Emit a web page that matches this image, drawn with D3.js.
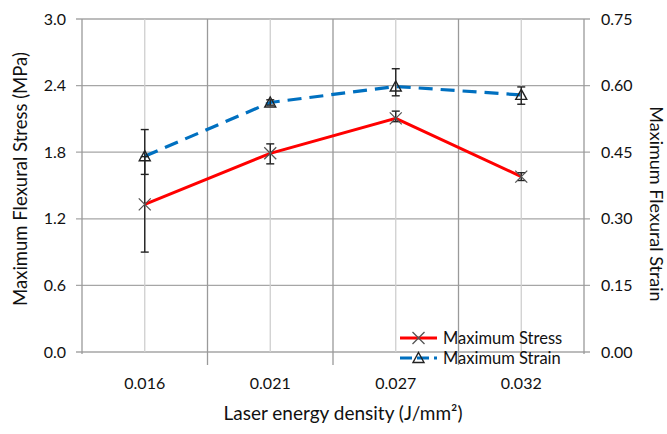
<!DOCTYPE html>
<html><head><meta charset="utf-8">
<script src="https://cdn.jsdelivr.net/npm/d3@7"></script>
<style>body{margin:0;background:#fff}svg{display:block}text{font-family:Lato,"Open Sans",sans-serif;fill:#111}</style>
</head><body><svg id="c" width="667" height="434"></svg>
<script>
const categories = ["0.016","0.021","0.027","0.032"];
const stressValues = [1.33, 1.79, 2.105, 1.58];
const stressErrUp = [0.43, 0.085, 0.065, 0.035];
const stressErrDown = [0.43, 0.095, 0.03, 0.035];
const strainValues = [0.441, 0.562, 0.598, 0.579];
const strainErrUp = [0.06, 0.006, 0.04, 0.018];
const strainErrDown = [0.041, 0.006, 0.021, 0.021];
const leftTicks = [0, 0.6, 1.2, 1.8, 2.4, 3.0];
const rightTicks = [0, 0.15, 0.30, 0.45, 0.60, 0.75];

const svg = d3.select("#c");
const L = 82, R = 584, T = 19, B = 352;
const x = d3.scaleBand().domain(categories).range([L, R]);
const yL = d3.scaleLinear().domain([0, 3]).range([B, T]);
const yR = d3.scaleLinear().domain([0, 0.75]).range([B, T]);
const cx = d => x(d) + x.bandwidth() / 2;

// horizontal gridlines
svg.append("g").selectAll("line").data(leftTicks).join("line")
  .attr("x1", L - 6).attr("x2", R + 6).attr("y1", d => yL(d)).attr("y2", d => yL(d))
  .attr("stroke", "#a6a6a6").attr("stroke-width", 1.3);
// vertical center gridlines
svg.append("g").selectAll("line").data(categories).join("line")
  .attr("x1", cx).attr("x2", cx).attr("y1", T).attr("y2", B)
  .attr("stroke", "#cfcfcf").attr("stroke-width", 1.3);
// category boundaries
const bounds = categories.map(c => x(c)).concat([R]);
svg.append("g").selectAll("line").data(bounds.slice(1, -1)).join("line")
  .attr("x1", d => d).attr("x2", d => d).attr("y1", T).attr("y2", B + 13)
  .attr("stroke", "#9a9a9a").attr("stroke-width", 1.3);
// axis lines
svg.append("line").attr("x1", L).attr("x2", L).attr("y1", T).attr("y2", B + 2).attr("stroke", "#9a9a9a").attr("stroke-width", 1.3);
svg.append("line").attr("x1", R).attr("x2", R).attr("y1", T).attr("y2", B + 2).attr("stroke", "#9a9a9a").attr("stroke-width", 1.3);

// tick labels
svg.append("g").selectAll("text").data(leftTicks).join("text")
  .attr("x", 66).attr("y", d => yL(d)).attr("dy", "0.35em").attr("text-anchor", "end")
  .attr("font-size", 16).text(d => d3.format(".1f")(d));
svg.append("g").selectAll("text").data(rightTicks).join("text")
  .attr("x", 601).attr("y", d => yR(d)).attr("dy", "0.35em").attr("text-anchor", "start")
  .attr("font-size", 16).text(d => d3.format(".2f")(d));
svg.append("g").selectAll("text").data(categories).join("text")
  .attr("x", cx).attr("y", 383).attr("dy", "0.35em").attr("text-anchor", "middle")
  .attr("font-size", 16).text(d => d);

// titles
svg.append("text").attr("transform", "translate(21,179) rotate(-90)").attr("text-anchor", "middle")
  .attr("dy", "0.35em").attr("font-size", 18.5).text("Maximum Flexural Stress (MPa)");
svg.append("text").attr("transform", "translate(656,204) rotate(90)").attr("text-anchor", "middle")
  .attr("dy", "0.35em").attr("font-size", 18).text("Maximum Flexural Strain");
svg.append("text").attr("x", 343).attr("y", 413).attr("dy", "0.35em").attr("text-anchor", "middle")
  .attr("font-size", 19).text("Laser energy density (J/mm²)");

// lines
const stressData = categories.map((c, i) => ({c, v: stressValues[i], up: stressErrUp[i], dn: stressErrDown[i]}));
const strainData = categories.map((c, i) => ({c, v: strainValues[i], up: strainErrUp[i], dn: strainErrDown[i]}));
svg.append("path").datum(stressData)
  .attr("d", d3.line().x(d => cx(d.c)).y(d => yL(d.v)))
  .attr("fill", "none").attr("stroke", "#ff0000").attr("stroke-width", 3);
svg.append("path").datum(strainData)
  .attr("d", d3.line().x(d => cx(d.c)).y(d => yR(d.v)))
  .attr("fill", "none").attr("stroke", "#0070c0").attr("stroke-width", 3.2).attr("stroke-dasharray", "14,8");

// error bars
function errBars(data, y) {
  const g = svg.append("g").attr("stroke", "#222").attr("stroke-width", 1.4);
  data.forEach(d => {
    const X = cx(d.c), y1 = y(d.v + d.up), y2 = y(d.v - d.dn);
    g.append("line").attr("x1", X).attr("x2", X).attr("y1", y1).attr("y2", y2);
    g.append("line").attr("x1", X - 4).attr("x2", X + 4).attr("y1", y1).attr("y2", y1);
    g.append("line").attr("x1", X - 4).attr("x2", X + 4).attr("y1", y2).attr("y2", y2);
  });
}
errBars(stressData, yL);
errBars(strainData, yR);

// markers
function xMark(g, X, Y) {
  g.append("path").attr("d", `M${X-6},${Y-6}L${X+6},${Y+6}M${X-6},${Y+6}L${X+6},${Y-6}`)
    .attr("stroke", "#555").attr("stroke-width", 1.3).attr("fill", "none");
}
function triMark(g, X, Y) {
  g.append("path").attr("d", `M${X},${Y-5.5}L${X+5.5},${Y+4.5}L${X-5.5},${Y+4.5}Z`)
    .attr("stroke", "#222").attr("stroke-width", 1.4).attr("fill", "none");
}
const mg = svg.append("g");
stressData.forEach(d => xMark(mg, cx(d.c), yL(d.v)));
strainData.forEach(d => triMark(mg, cx(d.c), yR(d.v)));

// legend
const lg = svg.append("g");
lg.append("line").attr("x1", 400).attr("x2", 437).attr("y1", 338).attr("y2", 338).attr("stroke", "#ff0000").attr("stroke-width", 3);
xMark(lg, 418.5, 338);
lg.append("text").attr("x", 443).attr("y", 338).attr("dy", "0.35em").attr("font-size", 16.5).text("Maximum Stress");
lg.append("line").attr("x1", 400).attr("x2", 437).attr("y1", 358).attr("y2", 358).attr("stroke", "#0070c0").attr("stroke-width", 3.2).attr("stroke-dasharray", "12,5");
triMark(lg, 418.5, 358);
lg.append("text").attr("x", 443).attr("y", 358).attr("dy", "0.35em").attr("font-size", 16.5).text("Maximum Strain");
</script></body></html>
